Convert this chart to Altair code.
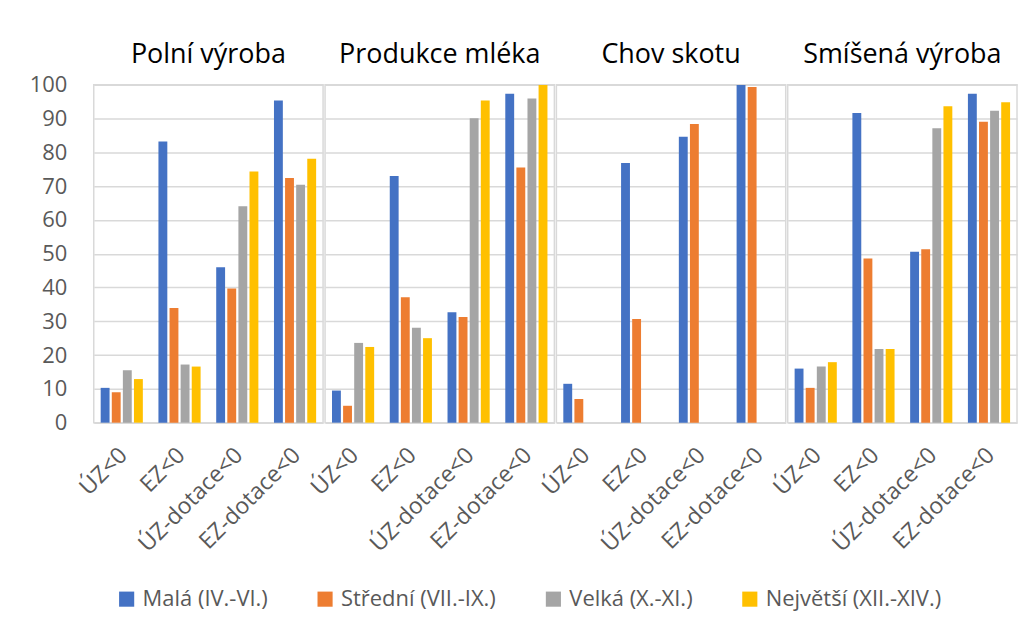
import altair as alt
import pandas as pd

panels = ["Polní výroba", "Produkce mléka", "Chov skotu", "Smíšená výroba"]
categories = ["ÚZ<0", "EZ<0", "ÚZ-dotace<0", "EZ-dotace<0"]
series = ["Malá (IV.-VI.)", "Střední (VII.-IX.)", "Velká (X.-XI.)", "Největší (XII.-XIV.)"]
colors = ["#4472C4", "#ED7D31", "#A5A5A5", "#FFC000"]

# values ordered panel by panel, category by category
mala = [10.3, 83.2, 46.0, 95.3, 9.5, 73.0, 32.7, 97.3, 11.5, 76.8, 84.6, 99.9, 16.0, 91.6, 50.6, 97.3]
stredni = [9.0, 33.9, 39.7, 72.4, 5.0, 37.1, 31.3, 75.5, 7.0, 30.7, 88.4, 99.3, 10.3, 48.6, 51.3, 89.0]
velka = [15.5, 17.2, 64.0, 70.4, 23.6, 28.1, 90.1, 95.9, None, None, None, None, 16.6, 21.8, 87.1, 92.3]
nejvetsi = [12.9, 16.6, 74.3, 78.1, 22.4, 25.0, 95.3, 99.9, None, None, None, None, 17.9, 21.8, 93.6, 94.8]

rows = []
for s, vals in zip(series, [mala, stredni, velka, nejvetsi]):
    i = 0
    for p in panels:
        for c in categories:
            v = vals[i]
            i += 1
            if v is not None:
                rows.append({"panel": p, "kategorie": c, "velikost": s, "hodnota": v})
df = pd.DataFrame(rows)

FONT = "Open Sans"
GRID = "#D9D9D9"
TXT = "#595959"

chart = (
    alt.Chart(df)
    .mark_bar()
    .encode(
        x=alt.X(
            "kategorie:N",
            sort=categories,
            title=None,
            scale=alt.Scale(paddingInner=0.27, paddingOuter=0.12),
            axis=alt.Axis(
                labelAngle=-45,
                labelFontSize=23,
                labelColor=TXT,
                labelFont=FONT,
                ticks=False,
                domain=False,
                labelPadding=20,
                labelOffset=-6,
            ),
        ),
        xOffset=alt.XOffset(
            "velikost:N",
            sort=series,
            scale=alt.Scale(domain=series, paddingInner=0.2, paddingOuter=0),
        ),
        y=alt.Y(
            "hodnota:Q",
            title=None,
            scale=alt.Scale(domain=[0, 100], nice=False),
            axis=alt.Axis(
                values=list(range(0, 101, 10)),
                labelFontSize=22,
                labelColor=TXT,
                labelFont=FONT,
                ticks=False,
                domain=False,
                grid=True,
                gridColor=GRID,
                gridWidth=1.5,
                labelPadding=26,
            ),
        ),
        color=alt.Color(
            "velikost:N",
            sort=series,
            scale=alt.Scale(domain=series, range=colors),
            legend=alt.Legend(
                title=None,
                orient="none",
                legendX=22,
                legendY=505,
                direction="horizontal",
                symbolType="square",
                symbolSize=230,
                symbolStrokeWidth=0,
                labelFontSize=22,
                labelColor=TXT,
                labelFont=FONT,
                labelOffset=5,
                labelLimit=400,
                columnPadding=46,
                padding=0,
            ),
        ),
    )
    .properties(width=230, height=339)
    .facet(
        column=alt.Column(
            "panel:N",
            sort=panels,
            title=None,
            header=alt.Header(
                labelFontSize=27,
                labelFont=FONT,
                labelColor="#000000",
                labelOrient="top",
                labelPadding=15,
            ),
        ),
        spacing=0,
    )
    .properties(padding={"left": 21, "top": 32, "right": 5, "bottom": 5})
    .configure_view(stroke=GRID, strokeWidth=1.5)
)

chart.save("out.html", embed_options={"renderer": "svg", "actions": False})
